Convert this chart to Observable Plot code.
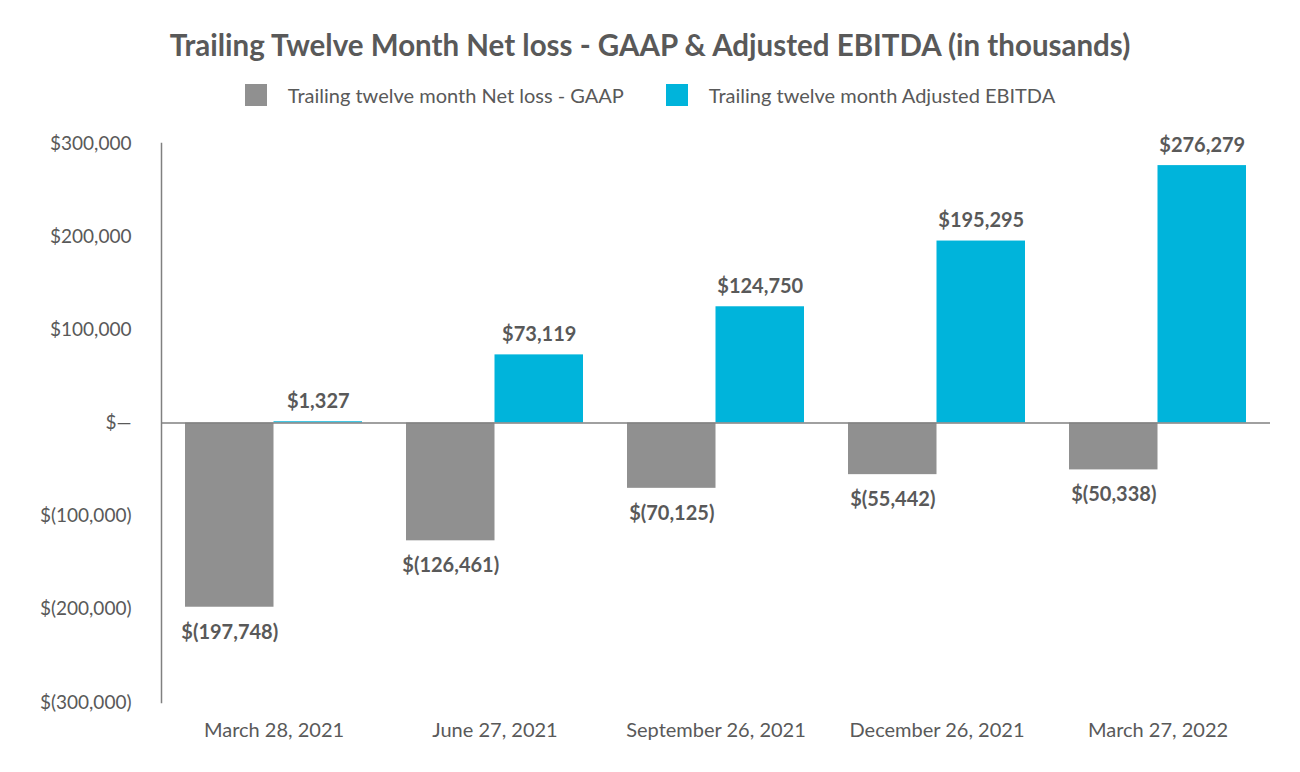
<!DOCTYPE html>
<html>
<head>
<meta charset="utf-8">
<script src="https://cdn.jsdelivr.net/npm/d3@7"></script>
<script src="https://cdn.jsdelivr.net/npm/@observablehq/plot@0.6"></script>
<style>
  html, body { margin: 0; padding: 0; background: #fff; }
  #wrap { position: relative; width: 1300px; height: 772px; font-family: Lato, "Open Sans", sans-serif; color: #595959; }
  #title { position: absolute; left: 0; width: 1300px; top: 26px; height: 38px; line-height: 38px; text-align: center; font-weight: bold; font-size: 29.5px; }
  #legend { position: absolute; left: 0; width: 1300px; top: 82px; height: 26px; display: flex; justify-content: center; align-items: center; font-size: 20px; }
  .item { display: flex; align-items: center; margin: 0 21px; }
  .sw { width: 22px; height: 22px; margin-right: 21px; }
  #chart { position: absolute; left: 0; top: 120px; }
</style>
</head>
<body>
<div id="wrap">
  <div id="title"></div>
  <div id="legend"></div>
  <div id="chart"></div>
</div>
<script>
const titleText = "Trailing Twelve Month Net loss - GAAP & Adjusted EBITDA (in thousands)";
const dates = ["March 28, 2021", "June 27, 2021", "September 26, 2021", "December 26, 2021", "March 27, 2022"];
const seriesNames = ["Trailing twelve month Net loss - GAAP", "Trailing twelve month Adjusted EBITDA"];
const seriesColors = ["#909090", "#00b4db"];
const netLoss = [-197748, -126461, -70125, -55442, -50338];
const adjEbitda = [1327, 73119, 124750, 195295, 276279];
const yTicks = [-300000, -200000, -100000, 0, 100000, 200000, 300000];

document.getElementById("title").textContent = titleText;
const legend = document.getElementById("legend");
seriesNames.forEach((name, i) => {
  const it = document.createElement("div");
  it.className = "item";
  const sw = document.createElement("div");
  sw.className = "sw";
  sw.style.background = seriesColors[i];
  const tx = document.createElement("span");
  tx.textContent = name;
  it.appendChild(sw); it.appendChild(tx);
  legend.appendChild(it);
});

const fmtNum = d3.format(",");
const money = v => v === 0 ? "$\u2014" : v < 0 ? `$(${fmtNum(-v)})` : `$${fmtNum(v)}`;

const lossData = dates.map((d, i) => ({date: d, value: netLoss[i]}));
const ebitdaData = dates.map((d, i) => ({date: d, value: adjEbitda[i]}));

const W = 1300, H = 652, ML = 161, MR = 30, MT = 23, MB = 70;
const pInner = 0.2, pOuter = 0.1;

function build(bw) {
  const half = bw / 2;
  return Plot.plot({
    width: W, height: H,
    marginLeft: ML, marginRight: MR, marginTop: MT, marginBottom: MB,
    style: {fontFamily: "Lato, 'Open Sans', sans-serif", fontSize: "19px", color: "#595959", background: "#fff"},
    x: {domain: dates, paddingInner: pInner, paddingOuter: pOuter, label: null},
    y: {domain: [-300000, 300000], label: null},
    marks: [
      Plot.barY(lossData, {x: "date", y: "value", fill: seriesColors[0], insetRight: half}),
      Plot.barY(ebitdaData, {x: "date", y: "value", fill: seriesColors[1], insetLeft: half}),
      Plot.ruleY([0], {stroke: "#808080", strokeWidth: 1.5}),
      Plot.frame({anchor: "left", stroke: "#808080", strokeWidth: 1.5}),
      Plot.axisY({ticks: yTicks, tickFormat: money, tickSize: 0, tickPadding: 30, fontSize: 19}),
      Plot.axisX({tickSize: 0, tickPadding: 20, fontSize: 20}),
      Plot.text(lossData, {x: "date", y: "value", text: d => money(d.value), dx: -bw / 4, dy: 25, fontWeight: "bold", fontSize: 20, fill: "#595959"}),
      Plot.text(ebitdaData, {x: "date", y: "value", text: d => money(d.value), dx: bw / 4, dy: -20, fontWeight: "bold", fontSize: 20, fill: "#595959"})
    ]
  });
}

const probe = build(0);
const bw = probe.scale("x").bandwidth;
document.getElementById("chart").appendChild(build(bw));
</script>
</body>
</html>
